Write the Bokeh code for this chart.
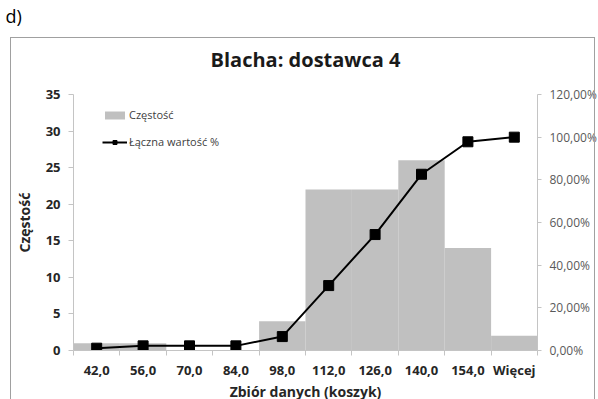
import numpy as np
from bokeh.plotting import figure
from bokeh.models import (Range1d, LinearAxis, FixedTicker, Legend, LegendItem,
                          Title, InlineStyleSheet)
from bokeh.embed import file_html
from bokeh.resources import INLINE

# ---- data ----
bins = ["42,0", "56,0", "70,0", "84,0", "98,0", "112,0", "126,0", "140,0", "154,0", "Więcej"]
freq = [1, 1, 0, 0, 4, 22, 22, 26, 14, 2]
cum_pct = [1.09, 2.17, 2.17, 2.17, 6.52, 30.43, 54.35, 82.61, 97.83, 100.0]
left_ticks = [0, 5, 10, 15, 20, 25, 30, 35]
right_ticks = [0, 20, 40, 60, 80, 100, 120]
right_labels = ["0,00%", "20,00%", "40,00%", "60,00%", "80,00%", "100,00%", "120,00%"]
title_text = "Blacha: dostawca 4"
x_title = "Zbiór danych (koszyk)"
y_title = "Częstość"
series_names = ["Częstość", "Łączna wartość %"]
panel_tag = "d)"

FONT = "Open Sans"
AXIS_GRAY = "#c4c4c4"
TEXT_DARK = "#262626"

xs = np.arange(len(bins)) + 0.5

p = figure(frame_width=464, frame_height=256,
           min_border_left=73, min_border_right=61,
           min_border_top=94, min_border_bottom=49,
           x_range=Range1d(0, len(bins)), y_range=Range1d(0, 35),
           output_backend="svg", toolbar_location=None)
p.extra_y_ranges = {"pct": Range1d(0, 120)}
p.outline_line_color = None
p.xgrid.visible = False
p.ygrid.visible = False
p.background_fill_color = "white"
p.border_fill_color = "white"

# outer chart-area border (decorative frame around the chart)
p.stylesheets = [InlineStyleSheet(css="""
:host { position: relative; }
:host::after {
  content: ''; position: absolute; left: 10px; top: 37px;
  width: 585px; height: 362px;
  border: 1px solid #a0a0a0; border-bottom: none;
  pointer-events: none; box-sizing: border-box;
}
""")]

r_bar = p.vbar(x=xs, top=freq, width=1.0, fill_color="#c0c0c0", line_color=None)
r_line = p.line(xs, cum_pct, y_range_name="pct", line_color="black", line_width=2)
r_sc = p.scatter(xs, cum_pct, y_range_name="pct", marker="square", size=10,
                 fill_color="black", line_color="black")

# outermost title slot: panel tag "d)"
p.title.text = panel_tag
p.title.align = "left"
p.title.offset = -68
p.title.text_font = FONT
p.title.text_font_style = "normal"
p.title.text_font_size = "18px"
p.title.text_color = "black"
p.title.standoff = 3

# small spacer next to the frame, then the chart title
p.add_layout(Title(text=" ", text_font_size="1px", standoff=5), "above")
p.add_layout(Title(text=title_text, align="center", text_font=FONT,
                   text_font_style="bold", text_font_size="20px",
                   text_color="#1a1a1a", standoff=28), "above")

# x axis
xa = p.xaxis[0]
xa.ticker = FixedTicker(ticks=list(xs), minor_ticks=list(range(len(bins) + 1)))
xa.major_label_overrides = {float(x): b for x, b in zip(xs, bins)}
xa.major_tick_out = 0
xa.major_tick_in = 0
xa.minor_tick_out = 5
xa.minor_tick_in = 0
xa.minor_tick_line_color = AXIS_GRAY
xa.axis_line_color = AXIS_GRAY
xa.major_label_text_font = FONT
xa.major_label_text_font_style = "bold"
xa.major_label_text_font_size = "13px"
xa.major_label_text_color = TEXT_DARK
xa.major_label_standoff = 5
xa.axis_label = x_title
xa.axis_label_text_font = FONT
xa.axis_label_text_font_style = "bold"
xa.axis_label_text_font_size = "14px"
xa.axis_label_text_color = TEXT_DARK
xa.axis_label_standoff = 0

# left axis
ya = p.yaxis[0]
ya.ticker = FixedTicker(ticks=left_ticks)
ya.minor_tick_line_color = None
ya.major_tick_out = 5
ya.major_tick_in = 0
ya.major_tick_line_color = AXIS_GRAY
ya.axis_line_color = AXIS_GRAY
ya.major_label_text_font = FONT
ya.major_label_text_font_style = "bold"
ya.major_label_text_font_size = "13px"
ya.major_label_text_color = TEXT_DARK
ya.major_label_standoff = 8
ya.axis_label = y_title
ya.axis_label_text_font = FONT
ya.axis_label_text_font_style = "bold"
ya.axis_label_text_font_size = "14px"
ya.axis_label_text_color = TEXT_DARK
ya.axis_label_standoff = 9

# right axis
ra = LinearAxis(y_range_name="pct", ticker=FixedTicker(ticks=right_ticks),
                major_label_overrides=dict(zip(right_ticks, right_labels)))
ra.minor_tick_line_color = None
ra.major_tick_out = 4
ra.major_tick_in = 0
ra.major_tick_line_color = AXIS_GRAY
ra.axis_line_color = AXIS_GRAY
ra.major_label_text_font = FONT
ra.major_label_text_font_size = "12px"
ra.major_label_text_color = "#595959"
ra.major_label_standoff = 8
p.add_layout(ra, "right")

# legend
legend = Legend(items=[LegendItem(label=series_names[0], renderers=[r_bar]),
                       LegendItem(label=series_names[1], renderers=[r_line, r_sc])],
                location=(29, 201), padding=0, border_line_color=None,
                background_fill_alpha=0, label_text_font=FONT,
                label_text_font_size="11px", label_text_color="#404040",
                glyph_width=25, glyph_height=10, label_height=10, label_standoff=2,
                spacing=12)
p.add_layout(legend)

open("out.html", "w").write(file_html(p, INLINE))
